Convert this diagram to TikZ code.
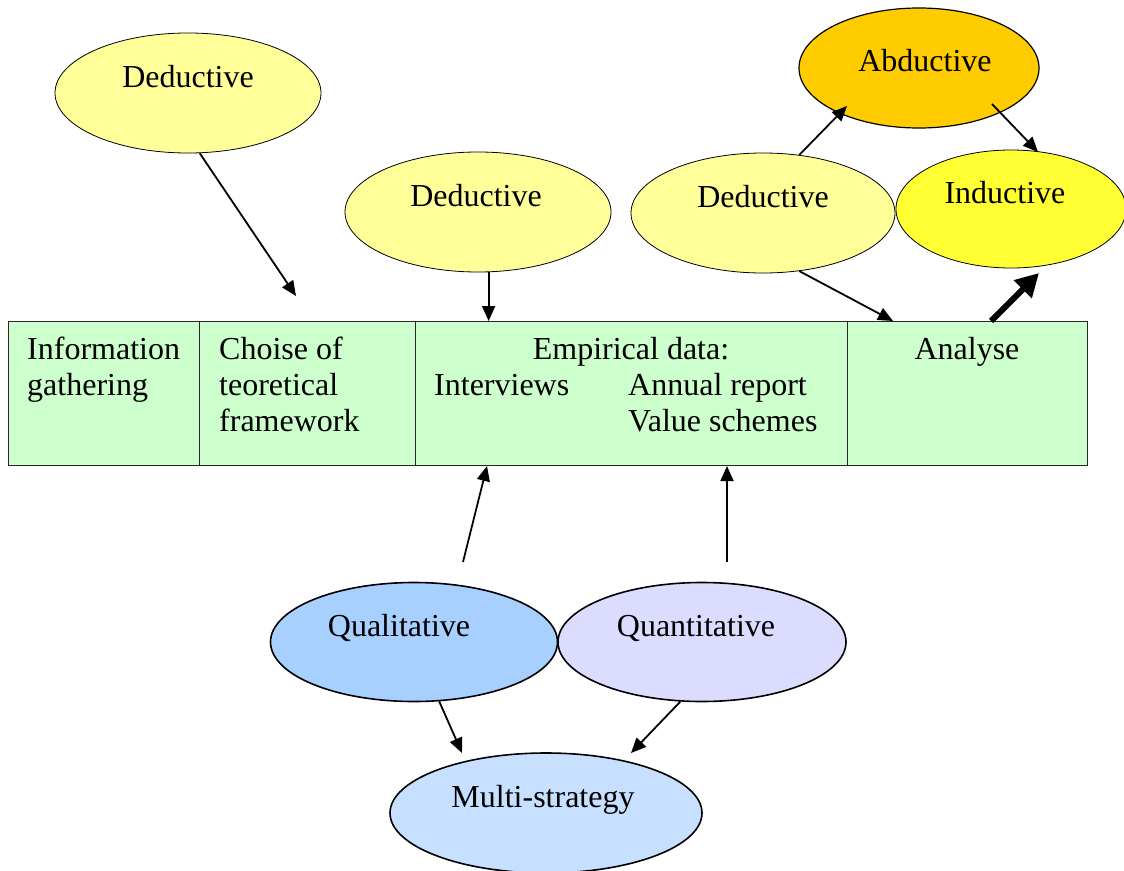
\documentclass[tikz,border=0pt]{standalone}
\usepackage{fontspec}
\setmainfont{Liberation Serif}
\usetikzlibrary{shapes.geometric,arrows.meta,calc}

\definecolor{boxgreen}{HTML}{CCFFCC}
\definecolor{dedyellow}{HTML}{FFFF99}
\definecolor{abdorange}{HTML}{FFCC00}
\definecolor{indyellow}{HTML}{FFFF33}
\definecolor{qualblue}{HTML}{A8D0FF}
\definecolor{quanlav}{HTML}{DCDCFF}
\definecolor{multiblue}{HTML}{C8E0FF}

\begin{document}
\begin{tikzpicture}[x=1pt,y=-1pt,
  every node/.style={font=\fontsize{32}{36}\selectfont},
  cell/.style={draw=black!85, line width=1pt, fill=boxgreen, anchor=north west,
    inner sep=0, minimum height=144pt},
  oval/.style={ellipse, draw, inner sep=0},
  lbl/.style={inner sep=0, anchor=base},
  note/.style={inner sep=0, align=left, anchor=north west},
  arr/.style={line width=1.8pt, -{Triangle[length=15pt,width=13pt]}},
  bigarr/.style={line width=6pt, -{Triangle[length=23pt,width=24pt]}}]

\useasboundingbox (0,0) rectangle (1124,870);
\clip (0,0) rectangle (1124,870);

% process strip
\node[cell, minimum width=191pt] (info)   at (8,321)   {};
\node[cell, minimum width=216pt] (choice) at (199,321) {};
\node[cell, minimum width=432pt] (emp)    at (415,321) {};
\node[cell, minimum width=240pt] (anal)   at (847,321) {};

\node[note] (infot)   at (27,337)  {Information\\gathering};
\node[note] (choicet) at (219,337) {Choise of\\teoretical\\framework};
\node[lbl]  (empt)    at (631,359) {Empirical data:};
\node[lbl, anchor=base west] (intt) at (434,395) {Interviews};
\node[note] (annt)    at (628,373) {Annual report\\Value schemes};
\node[lbl]  (analt)   at (967,359) {Analyse};

% reasoning ellipses
\node[oval, fill=dedyellow, line width=0.8pt, minimum width=266pt, minimum height=120pt] (d1) at (188,93) {};
\node[oval, fill=dedyellow, line width=0.8pt, minimum width=266pt, minimum height=120pt] (d2) at (478,212) {};
\node[oval, fill=dedyellow, line width=0.8pt, minimum width=264pt, minimum height=120pt] (d3) at (763,213) {};
\node[oval, fill=abdorange, line width=1.2pt, minimum width=240pt, minimum height=120pt] (abd) at (919,68) {};
\node[oval, fill=indyellow, line width=0.8pt, minimum width=230pt, minimum height=118pt] (ind) at (1011,209) {};

\node[lbl] (d1t)  at (188,87)  {Deductive};
\node[lbl] (d2t)  at (476,206) {Deductive};
\node[lbl] (d3t)  at (763,207) {Deductive};
\node[lbl] (abdt) at (925,71)  {Abductive};
\node[lbl] (indt) at (1005,203) {Inductive};

% strategy ellipses
\node[oval, fill=qualblue, line width=1.6pt, minimum width=287pt, minimum height=119pt] (qual) at (414,642) {};
\node[oval, fill=quanlav, line width=1.6pt, minimum width=288pt, minimum height=119pt] (quan) at (702,642) {};
\node[oval, fill=multiblue, line width=1.6pt, minimum width=312pt, minimum height=120pt] (multi) at (546,813) {};

\node[lbl] (qualt)  at (399,636) {Qualitative};
\node[lbl] (quant)  at (696,636) {Quantitative};
\node[lbl] (multit) at (543,807) {Multi-strategy};

% free connector ends
\coordinate (d1end)   at (296,296);
\coordinate (abdin)   at (847,106);
\coordinate (abdout)  at (992,104);
\coordinate (indin)   at (1038,152);
\coordinate (indlow)  at (1039,273);
\coordinate (qualtop) at (463,562);
\coordinate (quantop) at (727,562);
\coordinate (multil)  at (462,753);
\coordinate (multir)  at (631,753);

% connectors
\draw[arr] (d1.-79) -- (d1end);
\draw[arr] (d2.-80) -- (d2.-80 |- emp.north);
\draw[arr] (d3.58) -- (abdin);
\draw[arr] (abdout) -- (indin);
\draw[arr] (d3.-58) -- ($(anal.north west)+(46,0)$);
\draw[bigarr] ($(anal.north west)+(144,0)$) -- (indlow);
\draw[arr] (qualtop) -- ($(emp.south west)+(72,0)$);
\draw[arr] (quantop) -- ($(emp.south west)+(312,0)$);
\draw[arr] (qual.-67) -- (multil);
\draw[arr] (quan.-110) -- (multir);
\end{tikzpicture}
\end{document}
